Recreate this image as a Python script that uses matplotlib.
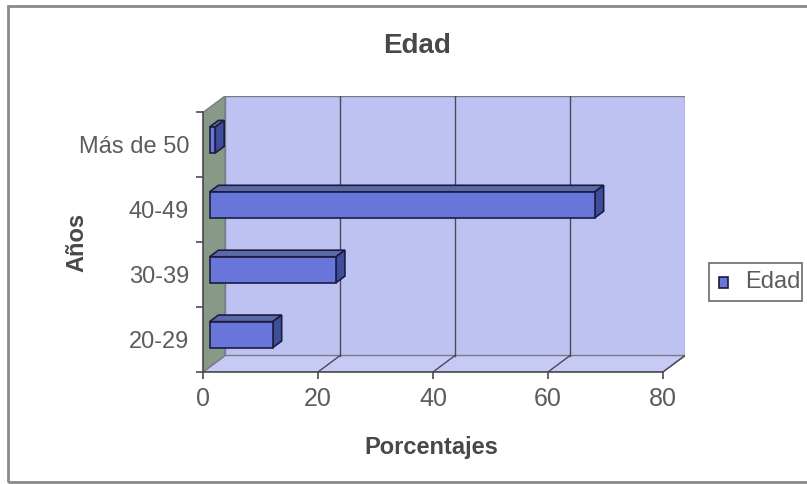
import matplotlib
matplotlib.use("Agg")
import matplotlib.pyplot as plt
from matplotlib.patches import Polygon, Rectangle
import numpy as np

# data
categorias = ["20-29", "30-39", "40-49", "Más de 50"]
porcentajes = [11, 22, 67, 1]
serie = "Edad"
xticks = [0, 20, 40, 60, 80]

W, H = 807, 484
C = {"wall": "#bec2f3", "floor": "#c6caf5", "side": "#879a88", "grid": "#4a4a52",
     "edge": "#7a7a86", "front": "#6876da", "top": "#5a6aa6", "right": "#3e4e9c",
     "bar_edge": "#1c1c40", "txt": "#5c5c5c", "bold": "#484848"}

plt.rcParams["font.family"] = ["Liberation Sans", "DejaVu Sans"]

fig = plt.figure(figsize=(W / 100, H / 100), dpi=100)
fig.patch.set_facecolor("white")

def fx(px): return px / W
def fy(py): return 1 - py / H

# plot area: front 203..662 x 113..372, back wall offset by depth
L, R, T, B = 203, 685, 96, 372
ax = fig.add_axes([fx(L), fy(B), fx(R) - fx(L), fy(T) - fy(B)])
XMAX = xticks[-1]
DX = 22 * XMAX / 459.0          # depth offset in x data units
DY = 16.5 / 65.0                # depth offset in category units
n = len(categorias)
y0, y1 = -0.5, n - 0.5
ax.set_xlim(0, XMAX + DX)
ax.set_ylim(y0, y1 + DY)
ax.set_facecolor("none")

# walls
ax.add_patch(Polygon([(DX, y0 + DY), (XMAX + DX, y0 + DY), (XMAX + DX, y1 + DY), (DX, y1 + DY)],
                     closed=True, fc=C["wall"], ec=C["edge"], lw=1.0, zorder=0))
ax.add_patch(Polygon([(0, y0), (XMAX, y0), (XMAX + DX, y0 + DY), (DX, y0 + DY)],
                     closed=True, fc=C["floor"], ec=C["edge"], lw=1.0, zorder=0))
ax.add_patch(Polygon([(0, y0), (DX, y0 + DY), (DX, y1 + DY), (0, y1)],
                     closed=True, fc=C["side"], ec=C["edge"], lw=1.0, zorder=0))
for v in xticks[1:-1]:
    ax.plot([v + DX, v + DX], [y0 + DY, y1 + DY], color=C["grid"], lw=1.0, zorder=1)
for v in xticks[1:]:
    ax.plot([v, v + DX], [y0, y0 + DY], color=C["grid"], lw=1.0, zorder=1)

# bars: front face at 30% of depth, 40% deep
f0, fd, bh = 0.3, 0.4, 0.4
x0 = f0 * DX
yc = np.arange(n) + f0 * DY
bdx, bdy = fd * DX, fd * DY
ax.barh(yc, porcentajes, height=bh, left=x0, color=C["front"],
        edgecolor=C["bar_edge"], linewidth=1.2, zorder=4)
for yy, v in zip(yc, porcentajes):
    top, bot = yy + bh / 2, yy - bh / 2
    ax.add_patch(Polygon([(x0, top), (x0 + v, top), (x0 + v + bdx, top + bdy), (x0 + bdx, top + bdy)],
                         closed=True, fc=C["top"], ec=C["bar_edge"], lw=1.2, zorder=3))
    ax.add_patch(Polygon([(x0 + v, bot), (x0 + v + bdx, bot + bdy), (x0 + v + bdx, top + bdy), (x0 + v, top)],
                         closed=True, fc=C["right"], ec=C["bar_edge"], lw=1.2, zorder=3))

# axes
for s in ("top", "right"):
    ax.spines[s].set_visible(False)
ax.spines["left"].set_bounds(y0, y1)
ax.spines["bottom"].set_bounds(0, XMAX)
for s in ("left", "bottom"):
    ax.spines[s].set_color(C["grid"])
    ax.spines[s].set_linewidth(1.2)
ax.set_xticks(xticks)
ax.set_xticklabels([str(v) for v in xticks], fontsize=18, color=C["txt"])
ax.tick_params(axis="x", length=5, width=1.2, color=C["grid"], pad=6)
ax.set_yticks(np.arange(n))
ax.set_yticklabels(categorias, fontsize=17, color=C["txt"])
ax.set_yticks(np.arange(n + 1) - 0.5, minor=True)
ax.tick_params(axis="y", which="major", length=0, pad=10)
ax.tick_params(axis="y", which="minor", length=5, width=1.2, color=C["grid"])

# titles
fig.text(fx(417), fy(53), serie, ha="center", va="baseline", fontsize=20,
         fontweight="bold", color=C["bold"])
fig.text(fx(431), fy(454), "Porcentajes", ha="center", va="baseline", fontsize=17,
         fontweight="bold", color=C["bold"])
fig.text(fx(77), fy(242), "Años", ha="center", va="center", rotation=90, fontsize=17,
         fontweight="bold", color=C["bold"])

# legend
fig.patches.append(Rectangle((fx(709), fy(301)), fx(802) - fx(709), fy(263) - fy(301),
                             transform=fig.transFigure, fc="white", ec="#6a6a6a", lw=1.2))
fig.patches.append(Rectangle((fx(719), fy(288)), fx(9), fy(0) - fy(11),
                             transform=fig.transFigure, fc=C["front"], ec=C["bar_edge"], lw=1.2))
fig.text(fx(745), fy(282.5), serie, ha="left", va="center", fontsize=17, color=C["txt"])

# outer frame
fig.patches.append(Rectangle((fx(8), fy(482)), 1.0, fy(6) - fy(482),
                             transform=fig.transFigure, fc="none", ec="#8a8a8a", lw=2.0))

fig.savefig("out.png", dpi=100, facecolor="white")
